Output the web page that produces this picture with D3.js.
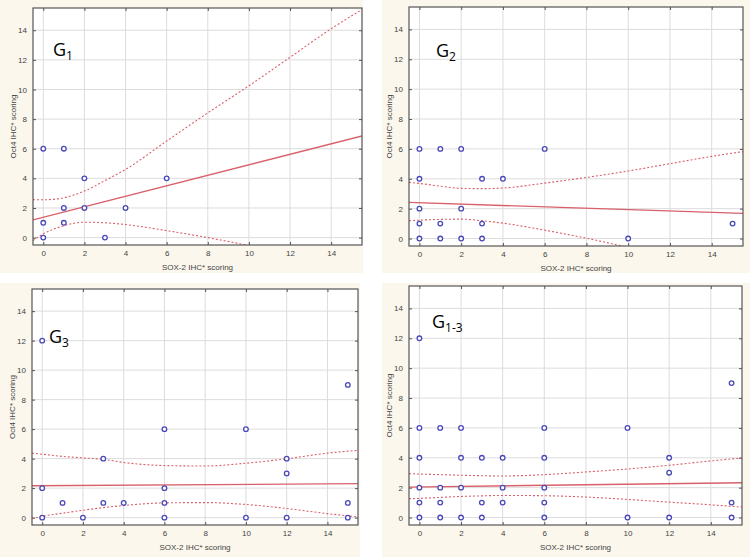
<!DOCTYPE html>
<html><head><meta charset="utf-8">
<script src="https://cdn.jsdelivr.net/npm/d3@7"></script>
<style>
html,body{margin:0;padding:0;background:#fff;}
svg{display:block;}
text{font-family:"Liberation Sans",Arial,sans-serif;}
</style></head>
<body>
<svg id="chart" width="750" height="557"></svg>
<script>
// ---------- data ----------
const xTicks = [0, 2, 4, 6, 8, 10, 12, 14];
const yTicks = [0, 2, 4, 6, 8, 10, 12, 14];
const xTitle = "SOX-2 IHC* scoring";
const yTitle = "Oct4 IHC* scoring";

const panelNames = ["G", "G", "G", "G"];
const panelSubs = ["1", "2", "3", "1-3"];

const g1X = [0, 1, 2, 6, 1, 2, 4, 0, 1, 0, 3];
const g1Y = [6, 6, 4, 4, 2, 2, 2, 1, 1, 0, 0];
const g2X = [0, 1, 2, 6, 0, 3, 4, 0, 2, 0, 1, 3, 15, 0, 1, 2, 3, 10];
const g2Y = [6, 6, 6, 6, 4, 4, 4, 2, 2, 1, 1, 1, 1, 0, 0, 0, 0, 0];
const g3X = [0, 0, 0, 1, 2, 3, 3, 4, 6, 6, 6, 6, 10, 10, 12, 12, 12, 15, 15, 15];
const g3Y = [12, 2, 0, 1, 0, 4, 1, 1, 6, 2, 1, 0, 6, 0, 4, 3, 0, 9, 1, 0];
const gAllX = [0, 0, 1, 2, 6, 10, 0, 2, 3, 4, 6, 12, 12, 0, 1, 2, 4, 6, 0, 1, 3, 4, 6, 15, 0, 1, 2, 3, 6, 10, 12, 15, 15];
const gAllY = [12, 6, 6, 6, 6, 6, 4, 4, 4, 4, 4, 4, 3, 2, 2, 2, 2, 2, 1, 1, 1, 1, 1, 1, 0, 0, 0, 0, 0, 0, 0, 0, 9];

// regression line end points (x = -0.5 and x = 15.5)
const lineX = [-0.5, 15.5];
const g1Line = [1.2, 6.86];
const g2Line = [2.42, 1.68];
const g3Line = [2.16, 2.3];
const gAllLine = [2.04, 2.33];

// confidence band samples
const bandX = [-0.5, 0, 1, 2, 3, 4, 6, 8, 10, 12, 14, 15.5];
const g1Upper = [2.55, 2.55, 2.69, 3.14, 3.85, 4.6, 6.52, 8.42, 10.25, 12.17, 14.1, 15.4];
const g1Lower = [-0.2, 0.25, 0.8, 1.04, 1.0, 0.88, 0.47, 0.0, -0.54, -1.1, -1.7, -2.1];
const g2Upper = [3.76, 3.69, 3.5, 3.36, 3.34, 3.38, 3.71, 4.09, 4.52, 5.01, 5.5, 5.82];
const g2Lower = [1.19, 1.23, 1.28, 1.3, 1.19, 1.03, 0.56, 0.02, -0.58, -1.1, -1.6, -2.0];
const g3Upper = [4.37, 4.3, 4.15, 4.05, 3.95, 3.74, 3.53, 3.5, 3.69, 3.99, 4.37, 4.56];
const g3Lower = [-0.07, 0.09, 0.3, 0.5, 0.68, 0.82, 1.0, 1.02, 0.89, 0.62, 0.27, 0.05];
const gAllUpper = [2.94, 2.91, 2.87, 2.83, 2.8, 2.78, 2.87, 3.05, 3.25, 3.5, 3.79, 3.99];
const gAllLower = [1.26, 1.28, 1.35, 1.41, 1.45, 1.48, 1.46, 1.37, 1.21, 1.03, 0.85, 0.7];

// ---------- layout ----------
const layout = [
  {plot:[33, 8, 362, 245],  bg:[0, 0, 363, 273],   label:[20, 48]},
  {plot:[409, 7, 743, 246], bg:[382, 0, 750, 273], label:[27, 50]},
  {plot:[32, 289, 358, 525], bg:[0, 283, 360, 557], label:[17, 54]},
  {plot:[409, 286, 742, 525], bg:[382, 283, 750, 557], label:[23, 42]}
];

const panels = [
  {xs:g1X, ys:g1Y, line:g1Line, up:g1Upper, lo:g1Lower},
  {xs:g2X, ys:g2Y, line:g2Line, up:g2Upper, lo:g2Lower},
  {xs:g3X, ys:g3Y, line:g3Line, up:g3Upper, lo:g3Lower},
  {xs:gAllX, ys:gAllY, line:gAllLine, up:gAllUpper, lo:gAllLower}
];

const svg = d3.select("#chart");
const red = "#d9606a";
const blue = "#4a48b8";
const fs = "8px";

panels.forEach((p, i) => {
  const L = layout[i];
  const [x0, y0, x1, y1] = L.plot;
  svg.append("rect").attr("x", L.bg[0]).attr("y", L.bg[1])
    .attr("width", L.bg[2] - L.bg[0]).attr("height", L.bg[3] - L.bg[1])
    .attr("fill", "#fbf7ec");
  svg.append("rect").attr("x", x0).attr("y", y0).attr("width", x1 - x0).attr("height", y1 - y0)
    .attr("fill", "#fff");

  const x = d3.scaleLinear().domain([-0.5, 15.5]).range([x0, x1]);
  const y = d3.scaleLinear().domain([-0.5, 15.5]).range([y1, y0]);

  const g = svg.append("g");
  // grid
  g.append("g").selectAll("line").data(xTicks).join("line")
    .attr("x1", d => x(d)).attr("x2", d => x(d)).attr("y1", y0).attr("y2", y1)
    .attr("stroke", "#dcdcdc").attr("stroke-width", 1);
  g.append("g").selectAll("line").data(yTicks).join("line")
    .attr("y1", d => y(d)).attr("y2", d => y(d)).attr("x1", x0).attr("x2", x1)
    .attr("stroke", "#dcdcdc").attr("stroke-width", 1);

  // axes
  const ax = g.append("g").attr("transform", `translate(0,${y1})`)
    .call(d3.axisBottom(x).tickValues(xTicks).tickSize(-3).tickPadding(5));
  const ay = g.append("g").attr("transform", `translate(${x0},0)`)
    .call(d3.axisLeft(y).tickValues(yTicks).tickSize(-3).tickPadding(6));
  const at = g.append("g").attr("transform", `translate(0,${y0})`)
    .call(d3.axisTop(x).tickValues(xTicks).tickSize(-3).tickFormat(""));
  const ar = g.append("g").attr("transform", `translate(${x1},0)`)
    .call(d3.axisRight(y).tickValues(yTicks).tickSize(-3).tickFormat(""));
  [ax, ay, at, ar].forEach(a => {
    a.select(".domain").remove();
    a.selectAll(".tick line").attr("stroke", "#555");
    a.selectAll("text").attr("fill", "#444").style("font-size", fs)
      .style("font-family", "'Liberation Sans', Arial, sans-serif");
  });

  // clip
  const cid = "clip" + i;
  svg.append("clipPath").attr("id", cid).append("rect")
    .attr("x", x0).attr("y", y0).attr("width", x1 - x0).attr("height", y1 - y0);
  const pg = g.append("g").attr("clip-path", `url(#${cid})`);

  const bl = d3.line().curve(d3.curveMonotoneX).x((d, k) => x(bandX[k])).y(d => y(d));
  pg.append("path").attr("d", bl(p.up)).attr("fill", "none").attr("stroke", red)
    .attr("stroke-width", 1.1).attr("stroke-dasharray", "2,2");
  pg.append("path").attr("d", bl(p.lo)).attr("fill", "none").attr("stroke", red)
    .attr("stroke-width", 1.1).attr("stroke-dasharray", "2,2");
  const ll = d3.line().x((d, k) => x(lineX[k])).y(d => y(d));
  pg.append("path").attr("d", ll(p.line)).attr("fill", "none").attr("stroke", red)
    .attr("stroke-width", 1.3);

  pg.append("g").selectAll("circle").data(p.xs).join("circle")
    .attr("cx", d => x(d)).attr("cy", (d, k) => y(p.ys[k])).attr("r", 2.3)
    .attr("fill", "#fff").attr("stroke", blue).attr("stroke-width", 1.3);

  // frame
  g.append("rect").attr("x", x0).attr("y", y0).attr("width", x1 - x0).attr("height", y1 - y0)
    .attr("fill", "none").attr("stroke", "#555").attr("stroke-width", 1.2);

  // titles
  g.append("text").attr("x", (x0 + x1) / 2).attr("y", y1 + 25)
    .attr("text-anchor", "middle").attr("fill", "#444").style("font-size", fs).text(xTitle);
  g.append("text").attr("transform", `translate(${x0 - 17.5},${(y0 + y1) / 2}) rotate(-90)`)
    .attr("text-anchor", "middle").attr("fill", "#444").style("font-size", fs).text(yTitle);

  // panel label
  const t = g.append("text").attr("x", x0 + L.label[0]).attr("y", y0 + L.label[1])
    .attr("fill", "#000").style("font-family", "'Open Sans', 'Liberation Sans', sans-serif")
    .style("font-size", "18px");
  t.append("tspan").text(panelNames[i]);
  t.append("tspan").attr("dy", 4).style("font-size", "12px").text(panelSubs[i]);
});
</script>
</body></html>
